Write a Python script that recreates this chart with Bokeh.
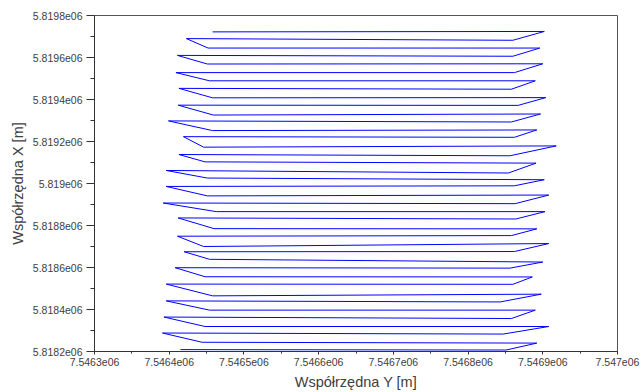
from bokeh.plotting import figure
from bokeh.models import Range1d, FixedTicker
from bokeh.embed import file_html
from bokeh.resources import INLINE

# Flight path vertices: east = "Współrzędna Y", north = "Współrzędna X" (metres)
east = [7546458, 7546902, 7546860, 7546423, 7546452, 7546896, 7546860, 7546411,
        7546451, 7546900, 7546862, 7546409, 7546454, 7546890, 7546858, 7546413,
        7546458, 7546904, 7546867, 7546412, 7546459, 7546897, 7546858, 7546399,
        7546458, 7546892, 7546862, 7546419, 7546446, 7546918, 7546856, 7546413,
        7546448, 7546891, 7546854, 7546396, 7546451, 7546902, 7546862, 7546396,
        7546451, 7546908, 7546863, 7546392, 7546463, 7546903, 7546864, 7546412,
        7546460, 7546892, 7546858, 7546411, 7546446, 7546908, 7546862, 7546420,
        7546454, 7546900, 7546856, 7546408, 7546448, 7546886, 7546860, 7546396,
        7546458, 7546898, 7546843, 7546396, 7546454, 7546890, 7546858, 7546393,
        7546448, 7546908, 7546847, 7546391, 7546444, 7546892, 7546851, 7546415]
north = [5819722, 5819724, 5819682, 5819690, 5819645, 5819645, 5819606, 5819610,
         5819569, 5819570, 5819528, 5819528, 5819489, 5819489, 5819449, 5819453,
         5819408, 5819409, 5819372, 5819373, 5819326, 5819331, 5819293, 5819298,
         5819252, 5819255, 5819220, 5819223, 5819173, 5819179, 5819132, 5819138,
         5819103, 5819097, 5819050, 5819062, 5819026, 5819018, 5818989, 5818986,
         5818941, 5818945, 5818904, 5818907, 5818866, 5818866, 5818831, 5818836,
         5818785, 5818784, 5818752, 5818749, 5818700, 5818714, 5818676, 5818675,
         5818639, 5818626, 5818597, 5818599, 5818556, 5818555, 5818520, 5818521,
         5818465, 5818473, 5818436, 5818441, 5818397, 5818397, 5818357, 5818364,
         5818319, 5818319, 5818283, 5818288, 5818244, 5818240, 5818207, 5818209]

x_ticks = [7546300, 7546400, 7546500, 7546600, 7546700, 7546800, 7546900, 7547000]
x_labels = ["7.5463e06", "7.5464e06", "7.5465e06", "7.5466e06",
            "7.5467e06", "7.5468e06", "7.5469e06", "7.547e06"]
x_minor = [7546350, 7546450, 7546550, 7546650, 7546750, 7546850, 7546950]

y_ticks = [5818200, 5818400, 5818600, 5818800, 5819000, 5819200, 5819400, 5819600, 5819800]
y_labels = ["5.8182e06", "5.8184e06", "5.8186e06", "5.8188e06", "5.819e06",
            "5.8192e06", "5.8194e06", "5.8196e06", "5.8198e06"]
y_minor = [5818300, 5818500, 5818700, 5818900, 5819100, 5819300, 5819500, 5819700]

p = figure(width=643, height=392, output_backend="svg", toolbar_location=None,
           x_range=Range1d(7546300, 7547000), y_range=Range1d(5818200, 5819800),
           min_border_left=94, min_border_right=26, min_border_top=15, min_border_bottom=40)

p.line(east, north, line_color="#0000ff", line_width=1)

p.xgrid.visible = False
p.ygrid.visible = False
p.outline_line_color = "#555555"
p.outline_line_width = 1

for ax, ticks, labels, minor, lab in [
        (p.xaxis[0], x_ticks, x_labels, x_minor, "Współrzędna Y [m]"),
        (p.yaxis[0], y_ticks, y_labels, y_minor, "Współrzędna X [m]")]:
    ax.ticker = FixedTicker(ticks=ticks, minor_ticks=minor)
    ax.major_label_overrides = {t: l for t, l in zip(ticks, labels)}
    ax.axis_label = lab
    ax.axis_label_text_font = "Liberation Sans"
    ax.axis_label_text_font_style = "normal"
    ax.axis_label_text_font_size = "14.5px"
    ax.axis_label_text_color = "#404040"
    ax.major_label_text_font = "Liberation Sans"
    ax.major_label_text_font_size = "10.5px"
    ax.major_label_text_color = "#404040"
    ax.axis_line_color = "#333333"
    ax.major_tick_line_color = "#333333"
    ax.minor_tick_line_color = "#333333"
    ax.major_tick_in = 0
    ax.minor_tick_in = 0

xa = p.xaxis[0]
xa.major_tick_out = 3
xa.minor_tick_out = 2
xa.major_label_standoff = 3
xa.axis_label_standoff = 5

ya = p.yaxis[0]
ya.major_tick_out = 8
ya.minor_tick_out = 4
ya.major_label_standoff = 4
ya.axis_label_standoff = 4
ya.major_label_orientation = "horizontal"

open("out.html", "w").write(file_html(p, INLINE))
